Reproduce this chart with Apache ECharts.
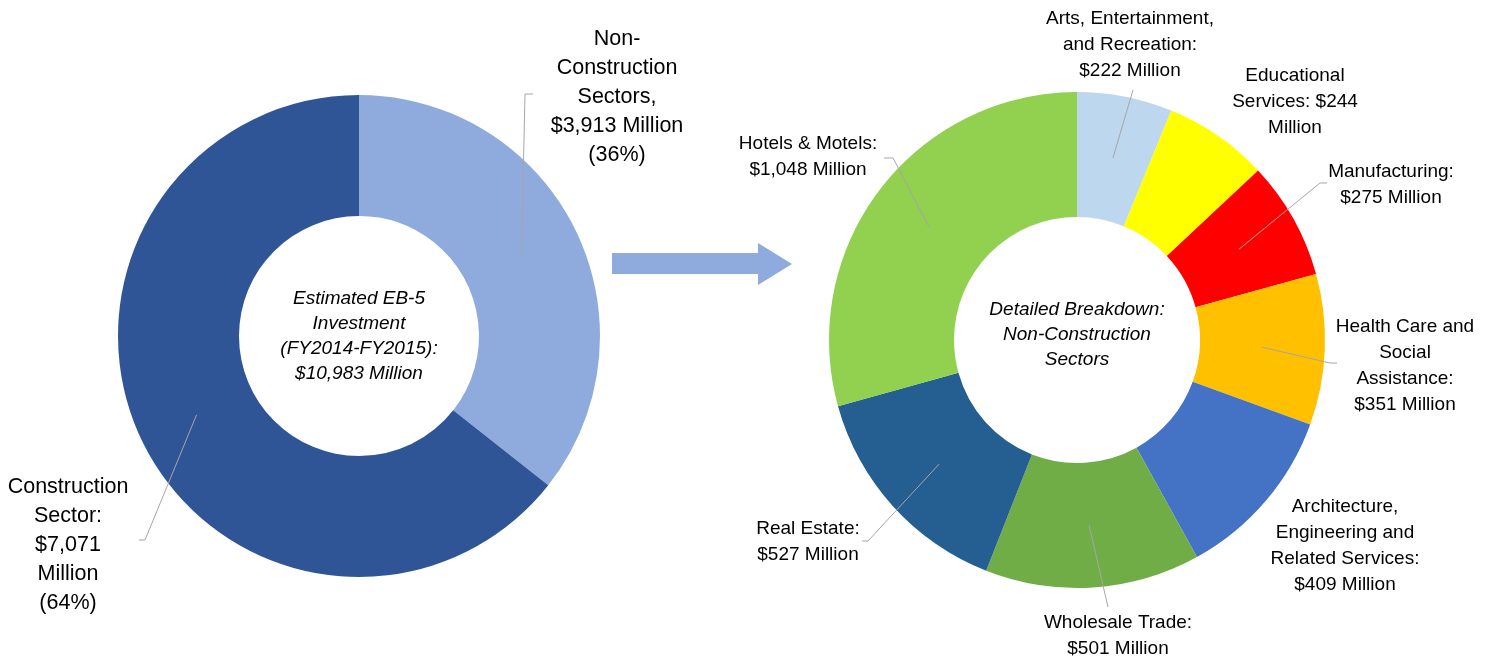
<!DOCTYPE html>
<html>
<head>
<meta charset="utf-8">
<script src="https://cdn.jsdelivr.net/npm/echarts@6/dist/echarts.min.js"></script>
<style>
html, body { margin: 0; padding: 0; background: #fff; }
#main { width: 1487px; height: 660px; }
</style>
</head>
<body>
<div id="main"></div>
<script>
var myChart = echarts.init(document.getElementById('main'));

// left donut: all EB-5 investment
var totalNames = ['Non-Construction Sectors', 'Construction Sector'];
var totalValues = [3913, 7071];
var totalLabels = [
    'Non-\nConstruction\nSectors,\n$3,913 Million\n(36%)',
    'Construction\nSector:\n$7,071\nMillion\n(64%)'
];
var totalColors = ['#8FAADC', '#2F5597'];

// right donut: non-construction breakdown
var sectorNames = ['Arts, Entertainment, and Recreation', 'Educational Services', 'Manufacturing',
    'Health Care and Social Assistance', 'Architecture, Engineering and Related Services',
    'Wholesale Trade', 'Real Estate', 'Hotels & Motels'];
var sectorValues = [222, 244, 275, 351, 409, 501, 527, 1048];
var sectorLabels = [
    'Arts, Entertainment,\nand Recreation:\n$222 Million',
    'Educational\nServices: $244\nMillion',
    'Manufacturing:\n$275 Million',
    'Health Care and\nSocial\nAssistance:\n$351 Million',
    'Architecture,\nEngineering and\nRelated Services:\n$409 Million',
    'Wholesale Trade:\n$501 Million',
    'Real Estate:\n$527 Million',
    'Hotels & Motels:\n$1,048 Million'
];
var sectorColors = ['#BDD7EE', '#FFFF00', '#FF0000', '#FFC000', '#4472C4', '#70AD47', '#255E91', '#92D050'];

// where the labels sit and where their leader lines end
var leftPlaces = [
    { x: 617, y: 97, line: [[525, 94], [533, 94]] },
    { x: 68, y: 545, line: [[145, 540], [139, 540]] }
];
var rightPlaces = [
    { x: 1130, y: 45, line: [[1133, 90], [1133, 90]] },
    { x: 1295, y: 102 },
    { x: 1391, y: 185, line: [[1320, 183], [1327, 183]] },
    { x: 1405, y: 366, line: [[1330, 363], [1337, 363]] },
    { x: 1345, y: 546 },
    { x: 1118, y: 636, line: [[1108, 607], [1108, 607]] },
    { x: 808, y: 542, line: [[868, 541], [862, 541]] },
    { x: 808, y: 157, line: [[893, 158], [884, 158]] }
];

var leftCenter = [359, 336], leftR = [120, 241];
var rightCenter = [1077, 340], rightR = [123, 248];

function buildData(names, values, colors, places) {
    return names.map(function (n, i) {
        return {
            name: n,
            value: values[i],
            itemStyle: { color: colors ? colors[i] : 'rgba(0,0,0,0)' },
            labelLine: { show: !!(places && places[i].line) }
        };
    });
}

// leader lines start in the middle of the ring, at the slice's mid angle
function makeLayout(values, center, r, places) {
    var total = 0;
    values.forEach(function (v) { total += v; });
    var rm = (r[0] + r[1]) / 2;
    return function (p) {
        var i = p.dataIndex, before = 0;
        for (var k = 0; k < i; k++) before += values[k];
        var a = (before + values[i] / 2) / total * 2 * Math.PI;
        var s = [center[0] + rm * Math.sin(a), center[1] - rm * Math.cos(a)];
        var pl = places[i];
        var out = { x: pl.x, y: pl.y, align: 'center', verticalAlign: 'middle' };
        if (pl.line) out.labelLinePoints = [s].concat(pl.line);
        return out;
    };
}

function labelFor(texts, size, lh) {
    return {
        show: true,
        position: 'outside',
        formatter: function (p) { return texts[p.dataIndex]; },
        color: '#000',
        fontFamily: 'Liberation Sans',
        fontSize: size,
        lineHeight: lh,
        width: 240,
        overflow: 'none'
    };
}

var lineStyle = { show: true, lineStyle: { color: '#A6A6A6', width: 1 }, smooth: false };

// coloured ring underneath
function ring(center, r, names, values, colors) {
    return {
        type: 'pie',
        z: 2,
        center: center,
        radius: r,
        startAngle: 90,
        clockwise: true,
        silent: true,
        label: { show: false },
        labelLine: { show: false },
        data: buildData(names, values, colors)
    };
}

// transparent copy on top, carrying labels and leader lines
function labels(center, r, names, values, texts, places, size, lh) {
    return {
        type: 'pie',
        z: 3,
        center: center,
        radius: r,
        startAngle: 90,
        clockwise: true,
        avoidLabelOverlap: false,
        silent: true,
        label: labelFor(texts, size, lh),
        labelLine: lineStyle,
        labelLayout: makeLayout(values, center, r, places),
        data: buildData(names, values, null, places)
    };
}

option = {
    animation: false,
    graphic: [
        {
            type: 'text',
            x: leftCenter[0], y: leftCenter[1],
            style: {
                text: 'Estimated EB-5\nInvestment\n(FY2014-FY2015):\n$10,983 Million',
                font: 'italic 19px "Liberation Sans"',
                lineHeight: 25,
                fill: '#000',
                textAlign: 'center',
                textVerticalAlign: 'middle'
            }
        },
        {
            type: 'text',
            x: rightCenter[0], y: rightCenter[1] - 5,
            style: {
                text: 'Detailed Breakdown:\nNon-Construction\nSectors',
                font: 'italic 19px "Liberation Sans"',
                lineHeight: 25,
                fill: '#000',
                textAlign: 'center',
                textVerticalAlign: 'middle'
            }
        },
        {
            type: 'polygon',
            shape: {
                points: [[612, 253], [758, 253], [758, 243], [792, 264], [758, 285], [758, 274], [612, 274]]
            },
            style: { fill: '#8FAADC' }
        }
    ],
    series: [
        ring(leftCenter, leftR, totalNames, totalValues, totalColors),
        ring(rightCenter, rightR, sectorNames, sectorValues, sectorColors),
        labels(leftCenter, leftR, totalNames, totalValues, totalLabels, leftPlaces, 21.5, 29),
        labels(rightCenter, rightR, sectorNames, sectorValues, sectorLabels, rightPlaces, 19, 26)
    ]
};
myChart.setOption(option);
</script>
</body>
</html>
